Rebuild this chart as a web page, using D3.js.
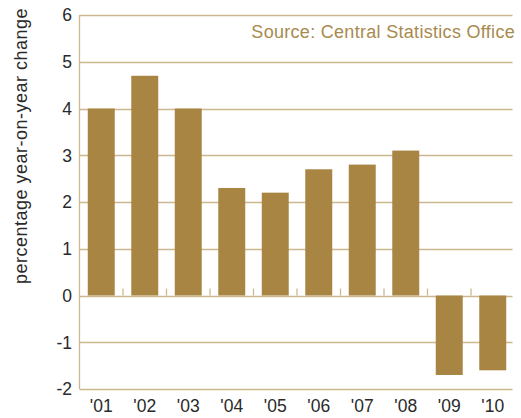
<!DOCTYPE html>
<html><head><meta charset="utf-8">
<script src="https://cdn.jsdelivr.net/npm/d3@7"></script>
<style>body{margin:0;background:#fff;} text{font-family:"Liberation Sans",Arial,sans-serif;}</style>
</head><body>
<svg id="c" width="521" height="418"></svg>
<script>
const categories = ["'01","'02","'03","'04","'05","'06","'07","'08","'09","'10"];
const values = [4.0, 4.7, 4.0, 2.3, 2.2, 2.7, 2.8, 3.1, -1.7, -1.6];
const yTicks = [-2, -1, 0, 1, 2, 3, 4, 5, 6];
const yLabel = "percentage year-on-year change";
const sourceText = "Source: Central Statistics Office";

(function () {
const svg = d3.select("#c");
const mLeft = 79.5, mRight = 514.5, mTop = 15, mBottom = 389;
const barColor = "#a88542", gridColor = "#cbb88f", textColor = "#2a2a2a";

const x = d3.scaleBand().domain(categories).range([mLeft, mRight]).paddingInner(0.38).paddingOuter(0.19);
const y = d3.scaleLinear().domain([-2, 6]).range([mBottom, mTop]);

// gridlines
svg.append("g").selectAll("line").data(yTicks).join("line")
  .attr("x1", mLeft).attr("x2", mRight - 2)
  .attr("y1", d => Math.round(y(d)) + 0.5).attr("y2", d => Math.round(y(d)) + 0.5)
  .attr("stroke", gridColor).attr("stroke-width", 1.3);

// y axis line
svg.append("line").attr("x1", mLeft).attr("x2", mLeft).attr("y1", mTop).attr("y2", mBottom)
  .attr("stroke", gridColor).attr("stroke-width", 1.3);

// bars
svg.append("g").selectAll("rect").data(values).join("rect")
  .attr("x", (d, i) => x(categories[i]))
  .attr("width", x.bandwidth())
  .attr("y", d => y(Math.max(0, d)))
  .attr("height", d => Math.abs(y(d) - y(0)))
  .attr("fill", barColor);

// category ticks along zero line (between bars)
const step = x.step();
const boundaries = categories.slice(1).map(c => x(c) - step * x.paddingInner() / 2);
svg.append("g").selectAll("line").data(boundaries).join("line")
  .attr("x1", d => d).attr("x2", d => d)
  .attr("y1", y(0) - 7).attr("y2", y(0))
  .attr("stroke", gridColor).attr("stroke-width", 1.3);

// y tick labels
svg.append("g").selectAll("text").data(yTicks).join("text")
  .attr("x", 72).attr("y", d => y(d)).attr("dy", "0.36em")
  .attr("text-anchor", "end").attr("font-size", 17.5).attr("fill", textColor)
  .text(d => d);

// x labels
svg.append("g").selectAll("text").data(categories).join("text")
  .attr("x", d => x(d) + x.bandwidth() / 2).attr("y", 412)
  .attr("text-anchor", "middle").attr("font-size", 17.5).attr("fill", textColor)
  .text(d => d);

// y axis label
svg.append("text").attr("transform", "translate(27,146) rotate(-90)")
  .attr("text-anchor", "middle").attr("font-size", 18).attr("letter-spacing", 0.5)
  .attr("fill", textColor)
  .text(yLabel);

// source
svg.append("text").attr("x", 515).attr("y", 38).attr("text-anchor", "end")
  .attr("font-size", 18).attr("letter-spacing", 0.3)
  .attr("fill", "#a88a4e").text(sourceText);
})();
</script>
</body></html>
